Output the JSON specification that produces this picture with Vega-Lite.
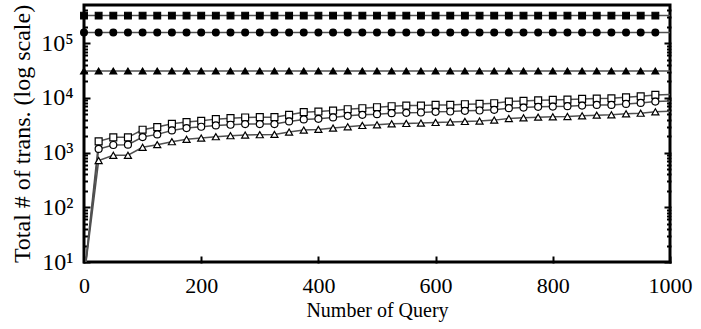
{
  "$schema": "https://vega.github.io/schema/vega-lite/v6.json",
  "width": 586,
  "height": 257,
  "autosize": {"type": "none"},
  "padding": {"left": 84, "top": 5, "right": 31, "bottom": 67},
  "background": "white",
  "config": {
    "view": {"stroke": "black", "strokeWidth": 3},
    "font": "Liberation Serif",
    "axis": {
      "grid": false,
      "domain": false,
      "zindex": 1,
      "labelFont": "Liberation Serif",
      "titleFont": "Liberation Serif",
      "labelFontSize": 22,
      "titleFontSize": 20,
      "titleFontWeight": "normal",
      "labelColor": "black",
      "titleColor": "black",
      "tickColor": "black",
      "tickWidth": 2,
      "labelOverlap": false,
      "labelBound": false,
      "labelFlush": false
    }
  },
  "data": {
    "values": [
      {"q": 0, "fsq": 320000, "fci": 157000, "ftr": 31000, "osq": 5, "oci": 5, "otr": 5},
      {"q": 25, "fsq": 320000, "fci": 157000, "ftr": 31000, "osq": 1607, "oci": 1166, "otr": 715},
      {"q": 50, "fsq": 320000, "fci": 157000, "ftr": 31000, "osq": 1900, "oci": 1378, "otr": 894},
      {"q": 75, "fsq": 320000, "fci": 157000, "ftr": 31000, "osq": 1900, "oci": 1398, "otr": 894},
      {"q": 100, "fsq": 320000, "fci": 157000, "ftr": 31000, "osq": 2620, "oci": 1927, "otr": 1250},
      {"q": 125, "fsq": 320000, "fci": 157000, "ftr": 31000, "osq": 2929, "oci": 2154, "otr": 1398},
      {"q": 150, "fsq": 320000, "fci": 157000, "ftr": 31000, "osq": 3368, "oci": 2547, "otr": 1585},
      {"q": 175, "fsq": 320000, "fci": 157000, "ftr": 31000, "osq": 3612, "oci": 2809, "otr": 1748},
      {"q": 200, "fsq": 320000, "fci": 157000, "ftr": 31000, "osq": 3819, "oci": 2970, "otr": 1848},
      {"q": 225, "fsq": 320000, "fci": 157000, "ftr": 31000, "osq": 4095, "oci": 3141, "otr": 1954},
      {"q": 250, "fsq": 320000, "fci": 157000, "ftr": 31000, "osq": 4270, "oci": 3230, "otr": 2038},
      {"q": 275, "fsq": 320000, "fci": 157000, "ftr": 31000, "osq": 4391, "oci": 3321, "otr": 2095},
      {"q": 300, "fsq": 320000, "fci": 157000, "ftr": 31000, "osq": 4453, "oci": 3321, "otr": 2125},
      {"q": 325, "fsq": 320000, "fci": 157000, "ftr": 31000, "osq": 4453, "oci": 3321, "otr": 2154},
      {"q": 350, "fsq": 320000, "fci": 157000, "ftr": 31000, "osq": 4909, "oci": 3714, "otr": 2376},
      {"q": 375, "fsq": 320000, "fci": 157000, "ftr": 31000, "osq": 5488, "oci": 4038, "otr": 2583},
      {"q": 400, "fsq": 320000, "fci": 157000, "ftr": 31000, "osq": 5643, "oci": 4152, "otr": 2656},
      {"q": 425, "fsq": 320000, "fci": 157000, "ftr": 31000, "osq": 5885, "oci": 4391, "otr": 2809},
      {"q": 450, "fsq": 320000, "fci": 157000, "ftr": 31000, "osq": 6222, "oci": 4708, "otr": 2970},
      {"q": 475, "fsq": 320000, "fci": 157000, "ftr": 31000, "osq": 6490, "oci": 4909, "otr": 3141},
      {"q": 500, "fsq": 320000, "fci": 157000, "ftr": 31000, "osq": 6767, "oci": 5047, "otr": 3230},
      {"q": 525, "fsq": 320000, "fci": 157000, "ftr": 31000, "osq": 7056, "oci": 5263, "otr": 3368},
      {"q": 550, "fsq": 320000, "fci": 157000, "ftr": 31000, "osq": 7255, "oci": 5337, "otr": 3415},
      {"q": 575, "fsq": 320000, "fci": 157000, "ftr": 31000, "osq": 7255, "oci": 5412, "otr": 3463},
      {"q": 600, "fsq": 320000, "fci": 157000, "ftr": 31000, "osq": 7460, "oci": 5566, "otr": 3562},
      {"q": 625, "fsq": 320000, "fci": 157000, "ftr": 31000, "osq": 7460, "oci": 5643, "otr": 3612},
      {"q": 650, "fsq": 320000, "fci": 157000, "ftr": 31000, "osq": 7670, "oci": 5803, "otr": 3714},
      {"q": 675, "fsq": 320000, "fci": 157000, "ftr": 31000, "osq": 7780, "oci": 5885, "otr": 3766},
      {"q": 700, "fsq": 320000, "fci": 157000, "ftr": 31000, "osq": 8000, "oci": 6050, "otr": 3927},
      {"q": 725, "fsq": 320000, "fci": 157000, "ftr": 31000, "osq": 8580, "oci": 6490, "otr": 4211},
      {"q": 750, "fsq": 320000, "fci": 157000, "ftr": 31000, "osq": 8820, "oci": 6672, "otr": 4330},
      {"q": 775, "fsq": 320000, "fci": 157000, "ftr": 31000, "osq": 9070, "oci": 6862, "otr": 4453},
      {"q": 800, "fsq": 320000, "fci": 157000, "ftr": 31000, "osq": 9197, "oci": 6960, "otr": 4515},
      {"q": 825, "fsq": 320000, "fci": 157000, "ftr": 31000, "osq": 9326, "oci": 7056, "otr": 4579},
      {"q": 850, "fsq": 320000, "fci": 157000, "ftr": 31000, "osq": 9590, "oci": 7255, "otr": 4708},
      {"q": 875, "fsq": 320000, "fci": 157000, "ftr": 31000, "osq": 9725, "oci": 7460, "otr": 4840},
      {"q": 900, "fsq": 320000, "fci": 157000, "ftr": 31000, "osq": 9860, "oci": 7460, "otr": 4909},
      {"q": 925, "fsq": 320000, "fci": 157000, "ftr": 31000, "osq": 10280, "oci": 7780, "otr": 5118},
      {"q": 950, "fsq": 320000, "fci": 157000, "ftr": 31000, "osq": 10720, "oci": 8110, "otr": 5263},
      {"q": 975, "fsq": 320000, "fci": 157000, "ftr": 31000, "osq": 11340, "oci": 8580, "otr": 5566},
      {"q": 1000, "fsq": 320000, "fci": 157000, "ftr": 31000, "osq": 11600, "oci": 8800, "otr": 5700}
    ]
  },
  "transform": [
    {"fold": ["fsq", "fci", "ftr", "osq", "oci", "otr"], "as": ["s", "v"]}
  ],
  "encoding": {
    "x": {
      "field": "q", "type": "quantitative",
      "scale": {"domain": [0, 1000], "nice": false, "zero": false},
      "axis": {
        "title": "Number of Query",
        "format": "d",
        "values": [0, 200, 400, 600, 800, 1000],
        "offset": -6,
        "tickSize": 7,
        "labelPadding": 12,
        "titlePadding": 4
      }
    }
  },
  "layer": [
    {
      "transform": [{"filter": "indexof(['osq','oci','otr'], datum.s) >= 0"}],
      "mark": {"type": "line", "clip": true, "color": "#505050", "strokeWidth": 1.5},
      "encoding": {
        "detail": {"field": "s", "type": "nominal"},
        "y": {
          "field": "v", "type": "quantitative",
          "scale": {"type": "log", "domain": [10, 500000], "nice": false},
          "axis": {
            "orient": "left",
            "title": "Total # of trans. (log scale)",
            "titleFontSize": 24,
            "labelFontSize": 24,
            "values": [10, 100, 1000, 10000, 100000],
            "offset": -6,
            "tickSize": 7,
            "labelExpr": "'10' + ['⁰','¹','²','³','⁴','⁵','⁶'][round(log(datum.value)/LN10)]",
            "labelPadding": 10,
            "titlePadding": 6
          }
        }
      }
    },
    {
      "transform": [{"filter": "indexof(['fsq','fci','ftr'], datum.s) >= 0"}],
      "mark": {"type": "line", "clip": true, "color": "#505050", "strokeWidth": 1.5},
      "encoding": {
        "detail": {"field": "s", "type": "nominal"},
        "y": {
          "field": "v", "type": "quantitative",
          "scale": {"type": "log", "domain": [10, 500000], "nice": false},
          "axis": {
            "orient": "left",
            "title": null,
            "labels": false,
            "values": [20,30,40,50,60,70,80,90,200,300,400,500,600,700,800,900,2000,3000,4000,5000,6000,7000,8000,9000,20000,30000,40000,50000,60000,70000,80000,90000,200000,300000,400000],
            "offset": -3.5,
            "tickSize": 4.5
          }
        }
      }
    },
    {
      "transform": [{"filter": "indexof(['fsq','fci','ftr'], datum.s) >= 0 && datum.q < 1000"}],
      "mark": {"type": "point", "filled": false, "opacity": 1, "stroke": "black", "strokeWidth": 1.2},
      "encoding": {
        "shape": {
          "field": "s", "type": "nominal", "legend": null,
          "scale": {"domain": ["fsq", "fci", "ftr", "osq", "oci", "otr"], "range": ["square", "circle", "triangle-up", "square", "circle", "triangle-up"]}
        },
        "fill": {
          "field": "s", "type": "nominal", "legend": null,
          "scale": {"domain": ["fsq", "fci", "ftr", "osq", "oci", "otr"], "range": ["black", "black", "black", "white", "white", "white"]}
        },
        "size": {
          "field": "s", "type": "nominal", "legend": null,
          "scale": {"domain": ["fsq", "fci", "ftr", "osq", "oci", "otr"], "range": [45, 50, 50, 80, 70, 75]}
        },
        "y": {
          "field": "v", "type": "quantitative",
          "scale": {"type": "log", "domain": [10, 500000], "nice": false},
          "axis": {
            "orient": "right",
            "title": null,
            "labels": false,
            "values": [10, 100, 1000, 10000, 100000],
            "offset": -6,
            "tickSize": 7
          }
        }
      }
    },
    {
      "transform": [{"filter": "indexof(['osq','oci','otr'], datum.s) >= 0 && datum.q < 1000 && datum.v >= 10"}],
      "mark": {"type": "point", "filled": false, "opacity": 1, "stroke": "black", "strokeWidth": 1.2},
      "encoding": {
        "shape": {
          "field": "s", "type": "nominal", "legend": null,
          "scale": {"domain": ["fsq", "fci", "ftr", "osq", "oci", "otr"], "range": ["square", "circle", "triangle-up", "square", "circle", "triangle-up"]}
        },
        "fill": {
          "field": "s", "type": "nominal", "legend": null,
          "scale": {"domain": ["fsq", "fci", "ftr", "osq", "oci", "otr"], "range": ["black", "black", "black", "white", "white", "white"]}
        },
        "size": {
          "field": "s", "type": "nominal", "legend": null,
          "scale": {"domain": ["fsq", "fci", "ftr", "osq", "oci", "otr"], "range": [45, 50, 50, 80, 70, 75]}
        },
        "y": {
          "field": "v", "type": "quantitative",
          "scale": {"type": "log", "domain": [10, 500000], "nice": false},
          "axis": {
            "orient": "right",
            "title": null,
            "labels": false,
            "values": [20,30,40,50,60,70,80,90,200,300,400,500,600,700,800,900,2000,3000,4000,5000,6000,7000,8000,9000,20000,30000,40000,50000,60000,70000,80000,90000,200000,300000,400000],
            "offset": -3.5,
            "tickSize": 4.5
          }
        }
      }
    }
  ],
  "resolve": {"axis": {"y": "independent"}}
}
